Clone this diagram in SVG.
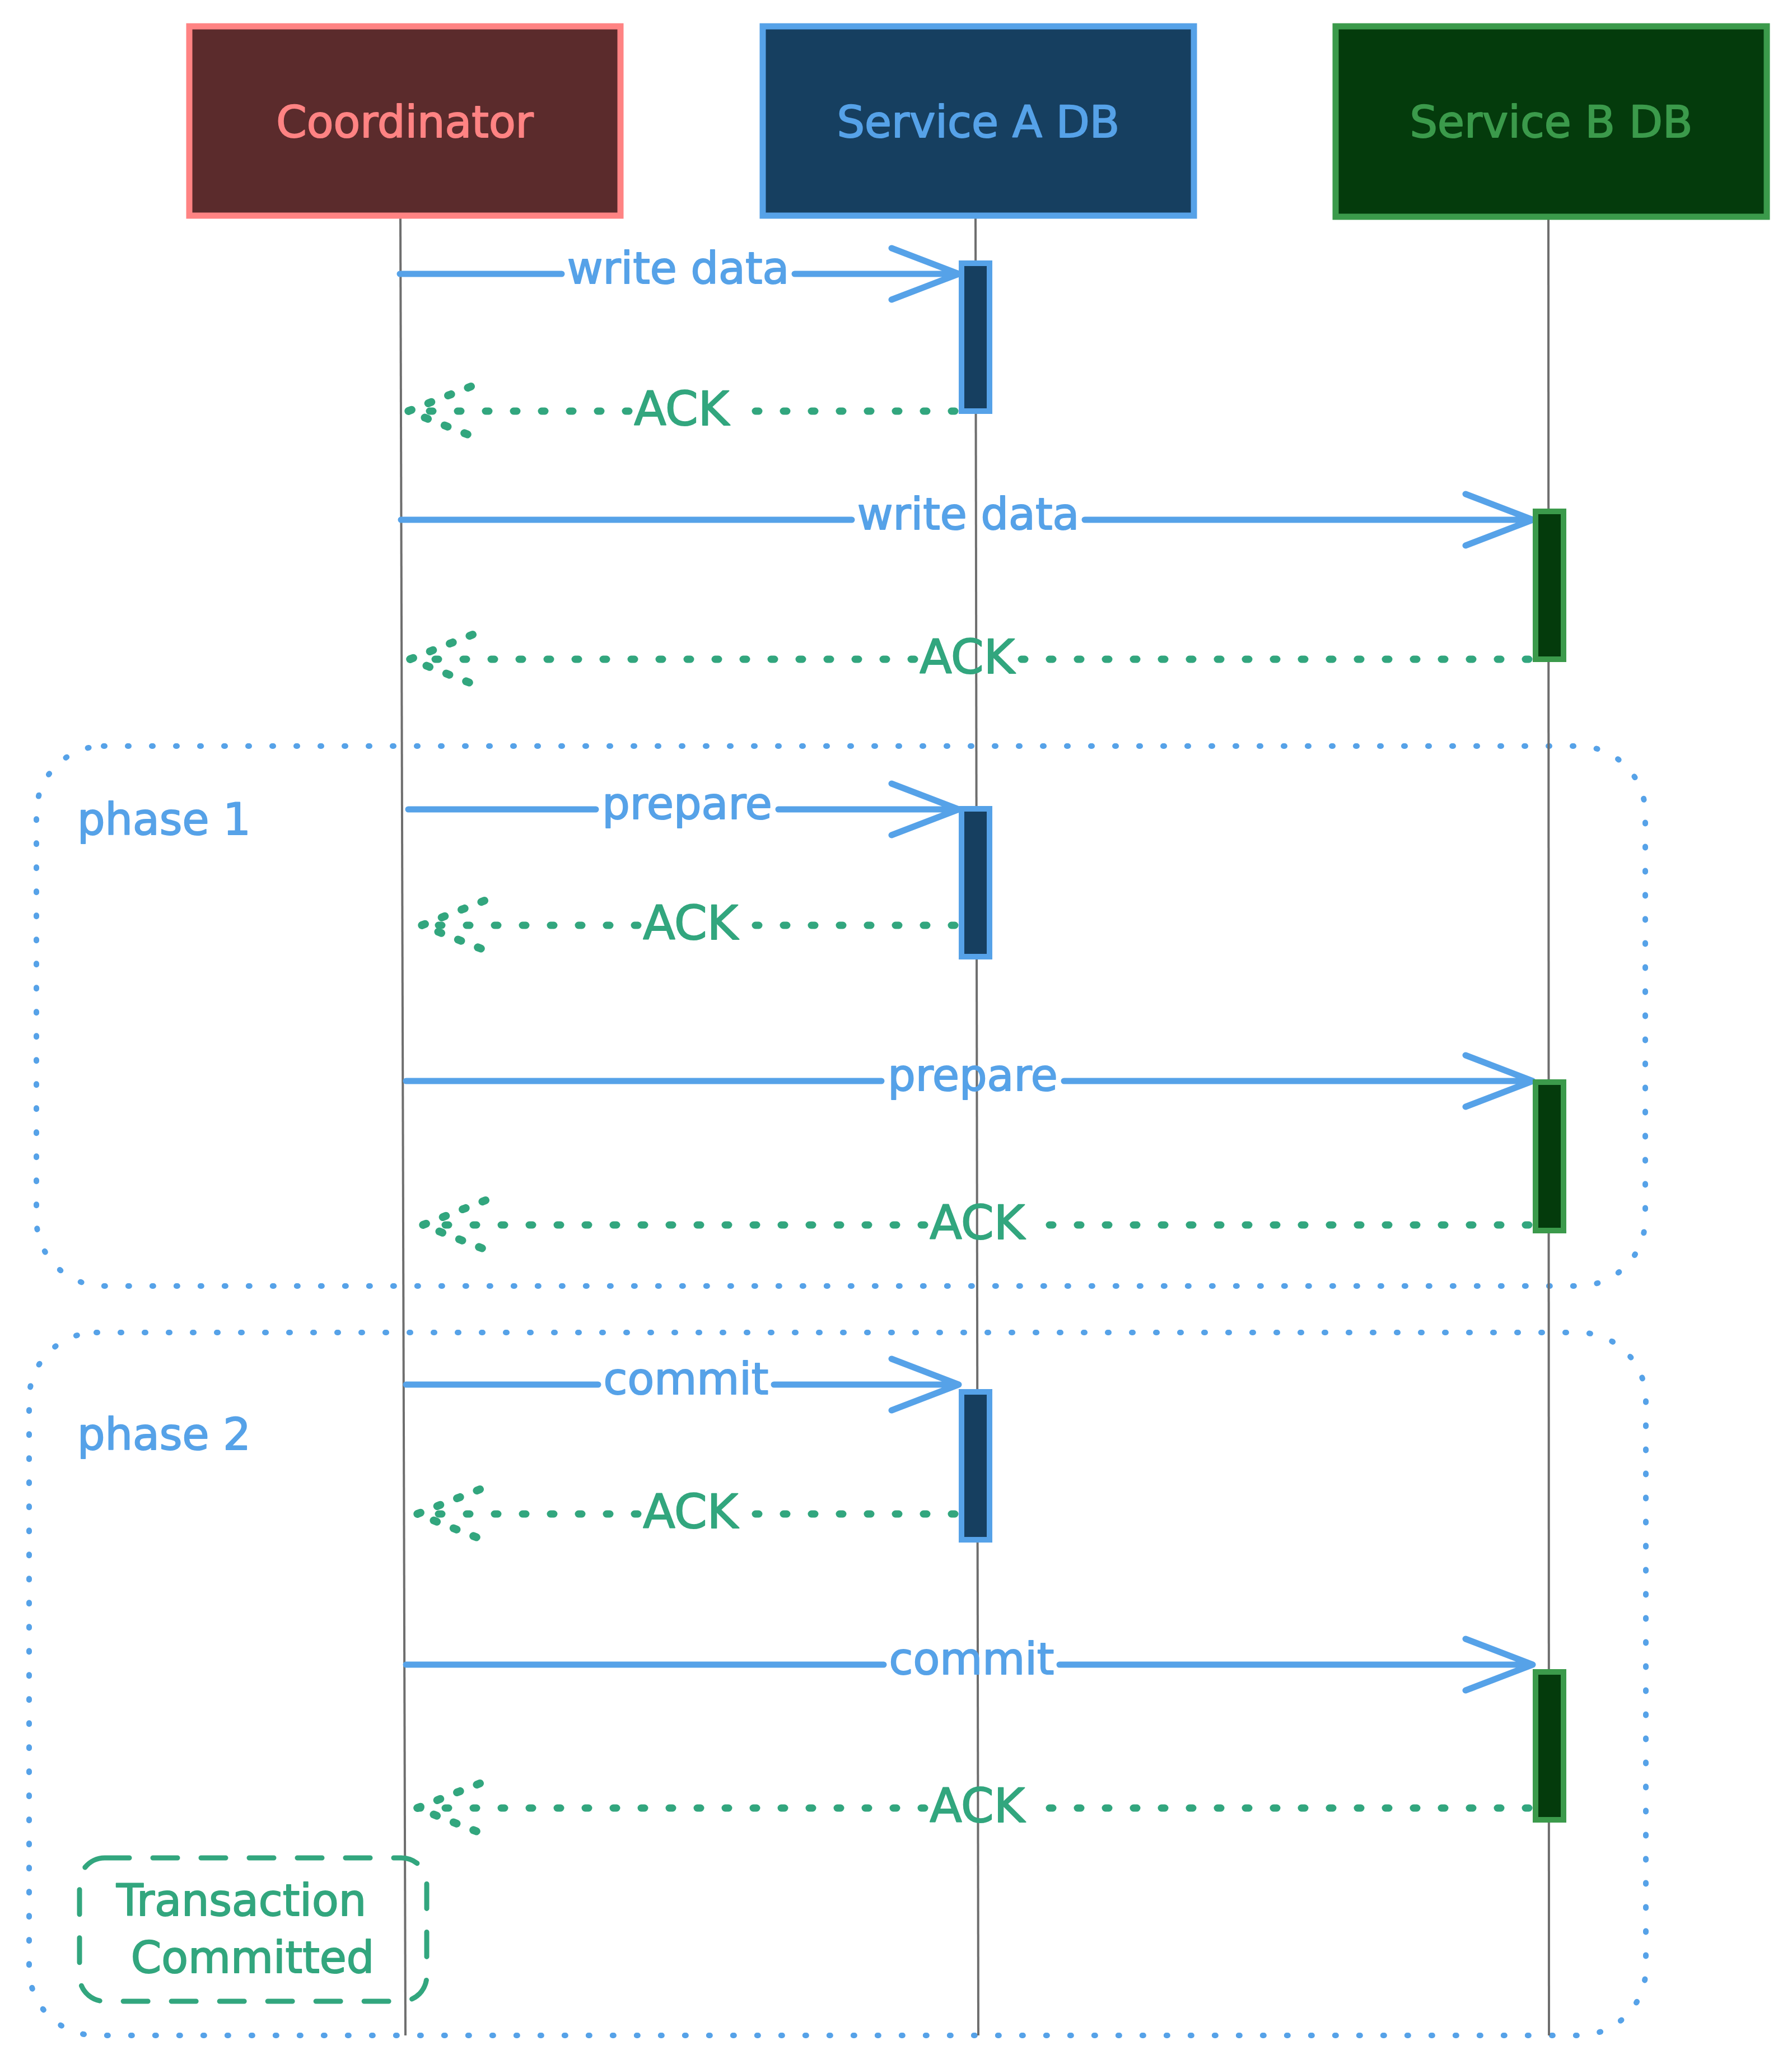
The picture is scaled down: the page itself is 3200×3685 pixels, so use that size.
<svg xmlns="http://www.w3.org/2000/svg" width="3200" height="3685" viewBox="0 0 3200 3685">
<style>
text{font-family:"DejaVu Sans","Liberation Sans",sans-serif;text-anchor:middle;stroke-width:2;stroke-linejoin:round}
.hdr{font-size:78px}
.lbl{font-size:78px;fill:#56a2e8;stroke:#56a2e8}
.ack{font-size:84px;fill:#32a67e;stroke:#32a67e}
.note{font-size:78px;fill:#32a67e;stroke:#32a67e}
.life{stroke:#6e6e6e;stroke-width:4;fill:none}
.msg{stroke:#56a2e8;stroke-width:11;fill:none;stroke-linecap:round;stroke-linejoin:round}
.ret{stroke:#32a67e;stroke-width:13;fill:none;stroke-linecap:round;stroke-dasharray:6 44}
.reth{stroke:#32a67e;stroke-width:14;fill:none;stroke-linecap:round;stroke-dasharray:6 32}
.phase{stroke:#56a2e8;stroke-width:10;fill:none;stroke-linecap:round;stroke-dasharray:2 41}
.barA{fill:#163f60;stroke:#56a2e8;stroke-width:10}
.barB{fill:#043b0c;stroke:#3b9a4b;stroke-width:10}
</style>
<rect width="3200" height="3685" fill="#ffffff"/>

<g id="phase1">
<rect class="phase" x="65" y="1332" width="2873" height="964" rx="120"/>
<text x="293" y="1490" class="lbl">phase 1</text>
</g>
<g id="phase2">
<rect class="phase" x="52" y="2379" width="2887" height="1255" rx="120"/>
<text x="293" y="2588" class="lbl">phase 2</text>
</g>

<g id="lifelines">
<line class="life" x1="715" y1="388" x2="724" y2="3634"/>
<line class="life" x1="1742" y1="385" x2="1747" y2="3634"/>
<line class="life" x1="2765" y1="390" x2="2766" y2="3634"/>
</g>

<g id="committed-note">
<rect x="142" y="3317" width="620" height="256" rx="45" fill="none" stroke="#32a67e" stroke-width="9" stroke-dasharray="44 42" stroke-linecap="round"/>
<text x="431" y="3420" class="note">Transaction</text>
<text x="451" y="3522" class="note">Committed</text>
</g>

<g id="connectors">
<!-- 1 write data A -->
<path class="msg" d="M714 489H1003M1419 489H1712M1592 443L1712 489L1592 535"/>
<text x="1211" y="506" class="lbl">write data</text>
<!-- 2 ACK A -->
<path class="ret" d="M1705 734H1311M1123 734H729"/>
<path class="reth" d="M841 690L729 734L841 778"/>
<text x="1217" y="759" class="ack">ACK</text>
<!-- 3 write data B -->
<path class="msg" d="M716 928H1521M1937 928H2737M2617 882L2737 928L2617 974"/>
<text x="1729" y="945" class="lbl">write data</text>
<!-- 4 ACK B -->
<path class="ret" d="M2730 1177H1821M1633 1177H732"/>
<path class="reth" d="M844 1133L732 1177L844 1221"/>
<text x="1727" y="1202" class="ack">ACK</text>
<!-- 5 prepare A -->
<path class="msg" d="M729 1445H1064M1390 1445H1712M1592 1399L1712 1445L1592 1491"/>
<text x="1227" y="1462" class="lbl">prepare</text>
<!-- 6 ACK A -->
<path class="ret" d="M1705 1652H1327M1139 1652H753"/>
<path class="reth" d="M865 1608L753 1652L865 1696"/>
<text x="1233" y="1677" class="ack">ACK</text>
<!-- 7 prepare B -->
<path class="msg" d="M725 1930H1574M1900 1930H2737M2617 1884L2737 1930L2617 1976"/>
<text x="1737" y="1947" class="lbl">prepare</text>
<!-- 8 ACK B -->
<path class="ret" d="M2730 2187H1839M1651 2187H755"/>
<path class="reth" d="M867 2143L755 2187L867 2231"/>
<text x="1745" y="2212" class="ack">ACK</text>
<!-- 9 commit A -->
<path class="msg" d="M725 2472H1068M1382 2472H1712M1592 2426L1712 2472L1592 2518"/>
<text x="1225" y="2489" class="lbl">commit</text>
<!-- 10 ACK A -->
<path class="ret" d="M1705 2703H1327M1139 2703H745"/>
<path class="reth" d="M857 2659L745 2703L857 2747"/>
<text x="1233" y="2728" class="ack">ACK</text>
<!-- 11 commit B -->
<path class="msg" d="M725 2972H1578M1892 2972H2737M2617 2926L2737 2972L2617 3018"/>
<text x="1735" y="2989" class="lbl">commit</text>
<!-- 12 ACK B -->
<path class="ret" d="M2730 3228H1839M1651 3228H745"/>
<path class="reth" d="M857 3184L745 3228L857 3272"/>
<text x="1745" y="3253" class="ack">ACK</text>
</g>

<g id="actA1"><rect class="barA" x="1717" y="470" width="50" height="264"/></g>
<g id="actB1"><rect class="barB" x="2742" y="913" width="50" height="264"/></g>
<g id="actA2"><rect class="barA" x="1717" y="1444" width="50" height="264"/></g>
<g id="actB2"><rect class="barB" x="2742" y="1932" width="50" height="265"/></g>
<g id="actA3"><rect class="barA" x="1717" y="2485" width="50" height="264"/></g>
<g id="actB3"><rect class="barB" x="2742" y="2985" width="50" height="264"/></g>

<g id="coordinator">
<rect x="338" y="47" width="770" height="338" fill="#5b2b2c" stroke="#ff8383" stroke-width="11"/>
<text x="723" y="245" class="hdr" fill="#ff8383" stroke="#ff8383">Coordinator</text>
</g>
<g id="serviceA">
<rect x="1362" y="47" width="770" height="338" fill="#163f60" stroke="#56a2e8" stroke-width="11"/>
<text x="1747" y="245" class="hdr" fill="#56a2e8" stroke="#56a2e8">Service A DB</text>
</g>
<g id="serviceB">
<rect x="2385" y="47" width="770" height="340" fill="#043b0c" stroke="#3b9a4b" stroke-width="11"/>
<text x="2770" y="245" class="hdr" fill="#3b9a4b" stroke="#3b9a4b">Service B DB</text>
</g>
</svg>
